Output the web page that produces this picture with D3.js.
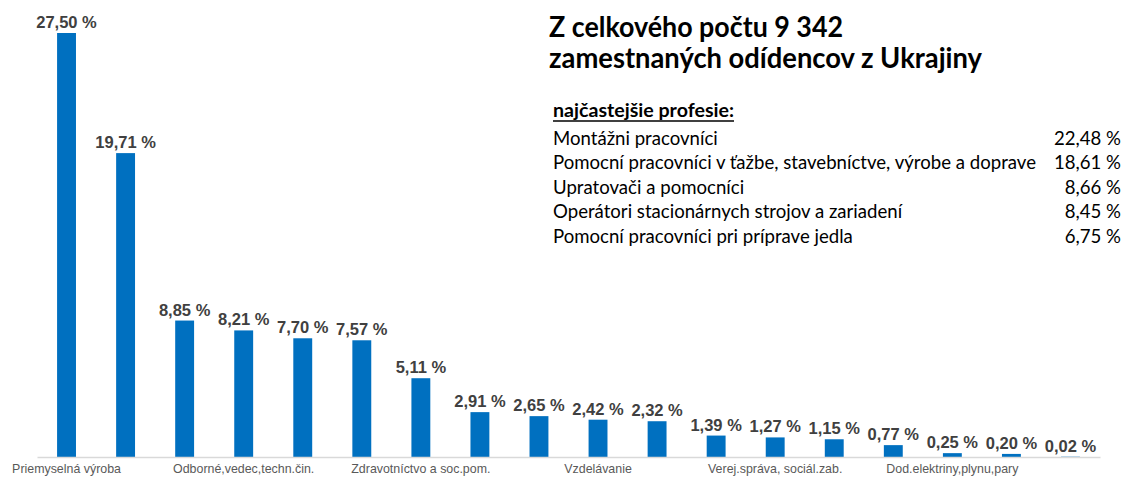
<!DOCTYPE html>
<html>
<head>
<meta charset="utf-8">
<script src="https://cdn.jsdelivr.net/npm/d3@7"></script>
<style>
  html, body { margin: 0; padding: 0; background: #fff; }
  svg { display: block; }
</style>
</head>
<body>
<svg id="chart" width="1125" height="477"></svg>
<script>
// ---- data ----
const categories = ["Priemyselná výroba", "", "", "Odborné,vedec,techn.čin.", "", "",
  "Zdravotníctvo a soc.pom.", "", "", "Vzdelávanie", "", "",
  "Verej.správa, sociál.zab.", "", "", "Dod.elektriny,plynu,pary", "", ""];
const shares = [27.50, 19.71, 8.85, 8.21, 7.70, 7.57, 5.11, 2.91, 2.65, 2.42, 2.32,
  1.39, 1.27, 1.15, 0.77, 0.25, 0.20, 0.02];
const titleLines = ["Z celkového počtu 9 342", "zamestnaných odídencov z Ukrajiny"];
const listHeader = "najčastejšie profesie:";
const professions = ["Montážni pracovníci",
  "Pomocní pracovníci v ťažbe, stavebníctve, výrobe a doprave",
  "Upratovači a pomocníci",
  "Operátori stacionárnych strojov a zariadení",
  "Pomocní pracovníci pri príprave jedla"];
const professionShares = [22.48, 18.61, 8.66, 8.45, 6.75];

// ---- chart ----
const svg = d3.select("#chart");
const fmt = v => d3.format(".2f")(v).replace(".", ",") + " %";

const x = d3.scaleBand()
  .domain(d3.range(shares.length))
  .range([37, 1100])
  .paddingInner(0.68)
  .paddingOuter(0.34);

const y = d3.scaleLinear().domain([0, 27.5]).range([457, 33]);

// bars
svg.append("g").selectAll("rect").data(shares).join("rect")
  .attr("x", (d, i) => x(i))
  .attr("width", x.bandwidth())
  .attr("y", d => y(d))
  .attr("height", d => y(0) - y(d))
  .attr("fill", "#0070C0");

// axis
const axis = d3.axisBottom(x)
  .tickSize(0)
  .tickPadding(7)
  .tickFormat(i => categories[i]);
const gx = svg.append("g").attr("transform", `translate(0,${y(0)})`).call(axis);
gx.select(".domain").attr("stroke", "#D9D9D9").attr("stroke-width", 1.3);
gx.selectAll("text")
  .attr("font-family", "Liberation Sans, Arial, sans-serif")
  .attr("font-size", 12.4)
  .attr("fill", "#595959");

// value labels
svg.append("g").selectAll("text").data(shares).join("text")
  .attr("x", (d, i) => x(i) + x.bandwidth() / 2)
  .attr("y", d => y(d) - 5)
  .attr("text-anchor", "middle")
  .attr("font-family", "Liberation Sans, Arial, sans-serif")
  .attr("font-weight", "bold")
  .attr("font-size", 16.5)
  .attr("fill", "#404040")
  .text(d => fmt(d));

// ---- title ----
const titleFont = "Lato, 'Open Sans', sans-serif";
const titleTargets = [294, 433];
const titleBaselines = [37, 68];
titleLines.forEach((t, i) => {
  const el = svg.append("text")
    .attr("x", 549).attr("y", titleBaselines[i])
    .attr("font-family", titleFont)
    .attr("font-weight", "bold")
    .attr("font-size", 28)
    .attr("fill", "#000")
    .text(t);
  el.attr("textLength", titleTargets[i]).attr("lengthAdjust", "spacingAndGlyphs");
});

// header
const hdr = svg.append("text")
  .attr("x", 553).attr("y", 117)
  .attr("font-family", titleFont)
  .attr("font-weight", "bold")
  .attr("font-size", 18.5)
  .attr("fill", "#000")
  .text(listHeader);
hdr.attr("textLength", 181).attr("lengthAdjust", "spacingAndGlyphs");
svg.append("line")
  .attr("x1", 553).attr("x2", 734).attr("y1", 121).attr("y2", 121)
  .attr("stroke", "#000").attr("stroke-width", 1.5);

// list rows
const rowY = d3.scaleLinear().domain([0, 4]).range([145, 242.5]);
const rows = svg.append("g").selectAll("text").data(professions).join("text")
  .attr("x", 553)
  .attr("y", (d, i) => rowY(i))
  .attr("font-family", titleFont)
  .attr("font-size", 18.5)
  .attr("fill", "#000")
  .text(d => d);
const natural = rows.nodes().map(n => n.getComputedTextLength());
const factor = 483 / natural[1];
rows.each(function(d, i) {
  d3.select(this).attr("textLength", natural[i] * factor).attr("lengthAdjust", "spacingAndGlyphs");
});

const vals = svg.append("g").selectAll("text").data(professionShares).join("text")
  .attr("x", 1121)
  .attr("y", (d, i) => rowY(i))
  .attr("text-anchor", "end")
  .attr("font-family", titleFont)
  .attr("font-size", 18.5)
  .attr("fill", "#000")
  .text(d => fmt(d));
vals.each(function() {
  const w = this.getComputedTextLength();
  d3.select(this).attr("textLength", w * factor).attr("lengthAdjust", "spacingAndGlyphs");
});
</script>
</body>
</html>
